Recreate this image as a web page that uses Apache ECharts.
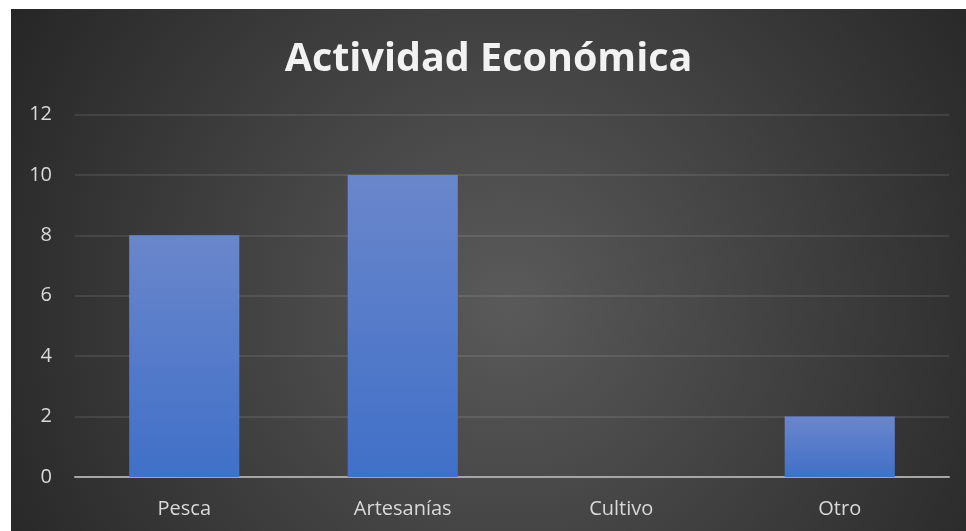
<!DOCTYPE html>
<html>
<head>
<meta charset="utf-8">
<script src="https://cdn.jsdelivr.net/npm/echarts@6/dist/echarts.min.js"></script>
<style>
  html, body { margin: 0; padding: 0; background: #ffffff; width: 966px; height: 531px; overflow: hidden; }
  #chart { position: absolute; left: 11px; top: 9px; width: 955px; height: 522px; }
</style>
</head>
<body>
<div id="chart"></div>
<script>
const titleText = 'Actividad Económica';
const categories = ['Pesca', 'Artesanías', 'Cultivo', 'Otro'];
const values = [8, 10, 0, 2];
const yTicks = [0, 2, 4, 6, 8, 10, 12];

const chart = echarts.init(document.getElementById('chart'), null, { renderer: 'canvas' });

const labelColor = '#d9d9d9';
const fontFamily = '"Open Sans", "Noto Sans", sans-serif';

chart.setOption({
  backgroundColor: {
    type: 'radial', x: 0.52, y: 0.56, r: 1.1,
    colorStops: [
      { offset: 0, color: '#5a5a5a' },
      { offset: 1, color: '#262626' }
    ]
  },
  title: {
    text: titleText,
    left: 'center',
    top: 26,
    padding: [5, 0, 5, 10],
    textStyle: {
      color: '#f2f2f2',
      fontSize: 39.5,
      fontWeight: 'bold',
      fontFamily: fontFamily
    }
  },
  grid: { left: 64, right: 17, top: 105.5, bottom: 54 },
  xAxis: {
    type: 'category',
    data: categories,
    axisLine: { lineStyle: { color: '#a6a6a6', width: 2 } },
    axisTick: { show: false },
    axisLabel: { color: labelColor, fontSize: 20, fontFamily: fontFamily, margin: 22 }
  },
  yAxis: {
    type: 'value',
    min: yTicks[0],
    max: yTicks[yTicks.length - 1],
    interval: 2,
    axisLine: { show: false },
    axisTick: { show: false },
    axisLabel: { color: labelColor, fontSize: 20, fontFamily: fontFamily, margin: 23 },
    splitLine: { lineStyle: { color: 'rgba(255,255,255,0.13)', width: 1.5 } }
  },
  series: [{
    type: 'bar',
    data: values,
    barWidth: '50.4%',
    itemStyle: {
      color: {
        type: 'linear', x: 0, y: 0, x2: 0, y2: 1,
        colorStops: [
          { offset: 0, color: '#6a86cb' },
          { offset: 1, color: '#4070c8' }
        ]
      }
    },
    animation: false
  }],
  animation: false
});
</script>
</body>
</html>
